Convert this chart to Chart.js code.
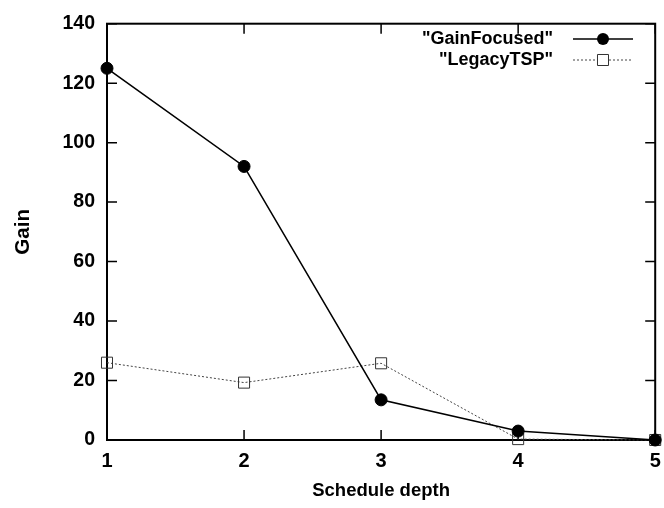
<!DOCTYPE html>
<html>
<head>
<meta charset="utf-8">
<script src="https://cdn.jsdelivr.net/npm/chart.js@4/dist/chart.umd.min.js"></script>
<style>
  html, body { margin: 0; padding: 0; background: #fff; }
  #wrap { width: 664px; height: 508px; }
</style>
</head>
<body>
<div id="wrap"><canvas id="gainChart" width="664" height="508"></canvas></div>
<script>
// Données
const depthLabels = ['1', '2', '3', '4', '5'];
const gainFocused = [125, 92, 13.5, 3, 0];
const legacyTSP = [26, 19.3, 25.8, 0.3, 0];
const yTicks = [0, 20, 40, 60, 80, 100, 120, 140];

const FONT = '"Liberation Sans", Arial, Helvetica, sans-serif';

// Cadre gnuplot : bordure, graduations vers l'intérieur, légende
const gnuplotFrame = {
    id: 'gnuplotFrame',
    beforeDatasetsDraw(chart) {
        const { ctx, chartArea: a, scales: { x, y } } = chart;
        const tick = 10;
        ctx.save();
        ctx.strokeStyle = '#000';
        ctx.lineWidth = 1.5;
        ctx.beginPath();
        depthLabels.forEach((_, i) => {
            const px = x.getPixelForValue(i);
            ctx.moveTo(px, a.bottom); ctx.lineTo(px, a.bottom - tick);
            ctx.moveTo(px, a.top); ctx.lineTo(px, a.top + tick);
        });
        yTicks.forEach(v => {
            const py = y.getPixelForValue(v);
            ctx.moveTo(a.left, py); ctx.lineTo(a.left + tick, py);
            ctx.moveTo(a.right, py); ctx.lineTo(a.right - tick, py);
        });
        ctx.stroke();
        ctx.lineWidth = 2;
        ctx.strokeRect(a.left, a.top, a.right - a.left, a.bottom - a.top);
        ctx.restore();
    },
    afterDatasetsDraw(chart) {
        const { ctx } = chart;
        const textRight = 553, lineStart = 573, lineEnd = 633, mark = 603;
        const rows = [
            { label: '"GainFocused"', y: 39, ds: chart.data.datasets[0] },
            { label: '"LegacyTSP"', y: 60, ds: chart.data.datasets[1] }
        ];
        ctx.save();
        ctx.font = 'bold 18px ' + FONT;
        ctx.textAlign = 'right';
        ctx.textBaseline = 'middle';
        rows.forEach(r => {
            ctx.fillStyle = '#000';
            ctx.fillText(r.label, textRight, r.y);
            ctx.strokeStyle = r.ds.borderColor;
            ctx.lineWidth = r.ds.borderWidth;
            ctx.setLineDash(r.ds.borderDash || []);
            ctx.beginPath();
            ctx.moveTo(lineStart, r.y);
            ctx.lineTo(lineEnd, r.y);
            ctx.stroke();
            ctx.setLineDash([]);
            ctx.fillStyle = r.ds.pointBackgroundColor;
            ctx.strokeStyle = r.ds.pointBorderColor;
            ctx.lineWidth = r.ds.pointBorderWidth;
            ctx.beginPath();
            if (r.ds.pointStyle === 'circle') {
                ctx.arc(mark, r.y, r.ds.pointRadius, 0, Math.PI * 2);
                ctx.fill();
            } else {
                const s = r.ds.pointRadius * Math.SQRT1_2;
                ctx.fillStyle = '#fff';
                ctx.fillRect(mark - s, r.y - s, 2 * s, 2 * s);
                ctx.rect(mark - s, r.y - s, 2 * s, 2 * s);
                ctx.stroke();
            }
        });
        ctx.restore();
    }
};

new Chart(document.getElementById('gainChart'), {
    type: 'line',
    data: {
        labels: depthLabels,
        datasets: [
            {
                label: '"GainFocused"',
                data: gainFocused,
                borderColor: '#000',
                borderWidth: 1.6,
                pointStyle: 'circle',
                pointRadius: 6,
                pointBackgroundColor: '#000',
                pointBorderColor: '#000',
                pointBorderWidth: 1,
                clip: false
            },
            {
                label: '"LegacyTSP"',
                data: legacyTSP,
                borderColor: '#444',
                borderWidth: 1,
                borderDash: [2, 2],
                pointStyle: 'rect',
                pointRadius: 7.8,
                pointBackgroundColor: 'rgba(0,0,0,0)',
                pointBorderColor: '#333',
                pointBorderWidth: 1,
                clip: false
            }
        ]
    },
    options: {
        responsive: false,
        animation: false,
        events: [],
        layout: { padding: { top: 16, right: 7, bottom: 0, left: 0 } },
        plugins: {
            legend: { display: false },
            tooltip: { enabled: false }
        },
        scales: {
            x: {
                type: 'category',
                offset: false,
                grid: { display: false, drawTicks: false },
                border: { display: false },
                ticks: {
                    color: '#000',
                    padding: 9,
                    maxRotation: 0,
                    autoSkip: false,
                    font: { family: FONT, size: 20, weight: 'bold' }
                },
                title: {
                    display: true,
                    text: 'Schedule depth',
                    color: '#000',
                    padding: { top: 0, bottom: 6 },
                    font: { family: FONT, size: 18.5, weight: 'bold' }
                },
                afterFit(scale) {
                    scale.height = 68;
                    scale.paddingLeft = 0;
                    scale.paddingRight = 0;
                }
            },
            y: {
                min: 0,
                max: 140,
                grid: { display: false, drawTicks: false },
                border: { display: false },
                ticks: {
                    color: '#000',
                    padding: 12,
                    stepSize: 20,
                    font: { family: FONT, size: 19.5, weight: 'bold' }
                },
                afterBuildTicks(scale) {
                    scale.ticks = yTicks.map(v => ({ value: v }));
                },
                title: {
                    display: true,
                    text: 'Gain',
                    color: '#000',
                    padding: { top: 11, bottom: 0 },
                    font: { family: FONT, size: 20.5, weight: 'bold' }
                },
                afterFit(scale) {
                    scale.width = 107;
                }
            }
        }
    },
    plugins: [gnuplotFrame]
});
</script>
</body>
</html>
